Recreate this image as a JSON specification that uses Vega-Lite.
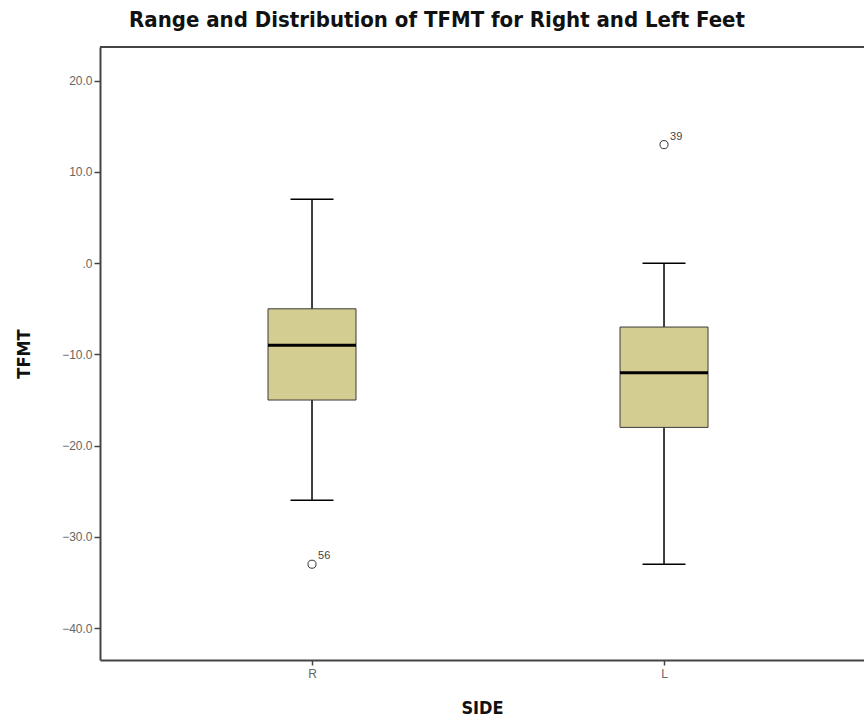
{
  "$schema": "https://vega.github.io/schema/vega-lite/v6.json",
  "width": 764,
  "height": 613,
  "autosize": {"type": "none"},
  "padding": {"left": 100, "top": 47, "right": 0, "bottom": 61},
  "background": "white",
  "title": {
    "text": "Range and Distribution of TFMT for Right and Left Feet",
    "font": "DejaVu Sans Condensed, DejaVu Sans",
    "fontSize": 22,
    "fontWeight": "bold",
    "color": "#111",
    "anchor": "middle",
    "dx": -45,
    "offset": 14
  },
  "config": {
    "view": {"stroke": null},
    "axis": {
      "labelFont": "Liberation Sans, Arial",
      "labelColor": "#666",
      "labelFontSize": 12,
      "titleFont": "DejaVu Sans Condensed, DejaVu Sans",
      "titleFontSize": 18,
      "titleFontWeight": "bold",
      "titleColor": "#111",
      "domainColor": "#444",
      "domainWidth": 2,
      "tickColor": "#444",
      "tickWidth": 1.5,
      "grid": false
    }
  },
  "datasets": {
    "stats": [
      {"SIDE": "R", "lower": -26, "q1": -15, "median": -9, "q3": -5, "upper": 7},
      {"SIDE": "L", "lower": -33, "q1": -18, "median": -12, "q3": -7, "upper": 0}
    ],
    "outliers": [
      {"SIDE": "R", "TFMT": -33, "case": "56"},
      {"SIDE": "L", "TFMT": 13, "case": "39"}
    ],
    "frame": [{"top": 23.7}]
  },
  "layer": [
    {
      "data": {"name": "stats"},
      "mark": {"type": "rule", "color": "#000", "strokeWidth": 1.5},
      "encoding": {
        "x": {
          "field": "SIDE", "type": "nominal", "sort": ["R", "L"],
          "scale": {"type": "point", "padding": 0.5852, "align": 0.5146},
          "axis": {"orient": "bottom", "title": "SIDE", "labelAngle": 0, "tickSize": 5, "labelPadding": 3, "titlePadding": 20}
        },
        "y": {
          "field": "lower", "type": "quantitative",
          "scale": {"domain": [-43.5, 23.7], "nice": false, "zero": false},
          "axis": {
            "title": "TFMT", "values": [-40, -30, -20, -10, 0, 10, 20],
            "labelExpr": "datum.value == 0 ? '.0' : format(datum.value, '.1f')",
            "tickSize": 6, "labelPadding": 2, "titlePadding": 28
          }
        },
        "y2": {"field": "upper"}
      }
    },
    {
      "data": {"name": "frame"},
      "mark": {"type": "rule", "color": "#444", "strokeWidth": 2},
      "encoding": {
        "y": {"field": "top", "type": "quantitative"}
      }
    },
    {
      "data": {"name": "stats"},
      "mark": {"type": "tick", "color": "#000", "opacity": 1, "size": 43, "thickness": 1.5},
      "encoding": {
        "x": {"field": "SIDE", "type": "nominal", "sort": ["R", "L"]},
        "y": {"field": "lower", "type": "quantitative"}
      }
    },
    {
      "data": {"name": "stats"},
      "mark": {"type": "tick", "color": "#000", "opacity": 1, "size": 43, "thickness": 1.5},
      "encoding": {
        "x": {"field": "SIDE", "type": "nominal", "sort": ["R", "L"]},
        "y": {"field": "upper", "type": "quantitative"}
      }
    },
    {
      "data": {"name": "stats"},
      "mark": {"type": "bar", "size": 88, "fill": "#d4cd92", "stroke": "#3a3a3a", "strokeWidth": 1, "opacity": 1},
      "encoding": {
        "x": {"field": "SIDE", "type": "nominal", "sort": ["R", "L"]},
        "y": {"field": "q1", "type": "quantitative"},
        "y2": {"field": "q3"}
      }
    },
    {
      "data": {"name": "stats"},
      "mark": {"type": "tick", "color": "#000", "opacity": 1, "size": 88, "thickness": 3},
      "encoding": {
        "x": {"field": "SIDE", "type": "nominal", "sort": ["R", "L"]},
        "y": {"field": "median", "type": "quantitative"}
      }
    },
    {
      "data": {"name": "outliers"},
      "mark": {"type": "point", "shape": "circle", "filled": false, "size": 65, "color": "#333", "opacity": 1, "strokeWidth": 1},
      "encoding": {
        "x": {"field": "SIDE", "type": "nominal", "sort": ["R", "L"]},
        "y": {"field": "TFMT", "type": "quantitative"}
      }
    },
    {
      "data": {"name": "outliers"},
      "mark": {"type": "text", "font": "Liberation Sans, Arial", "fontSize": 11, "color": "#444", "align": "left", "dx": 6, "dy": -8},
      "encoding": {
        "x": {"field": "SIDE", "type": "nominal", "sort": ["R", "L"]},
        "y": {"field": "TFMT", "type": "quantitative"},
        "text": {"field": "case"}
      }
    }
  ]
}
